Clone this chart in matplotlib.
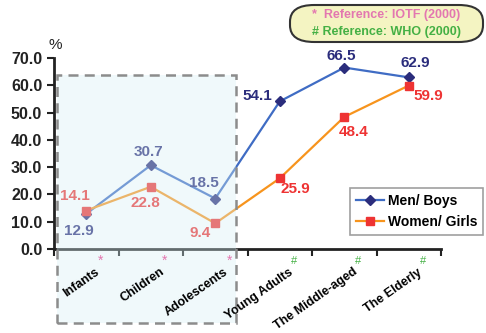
"""Overweight/obesity prevalence by age group, men vs women."""

import matplotlib.pyplot as plt
from matplotlib.patches import Rectangle, FancyBboxPatch

plt.rcParams["font.family"] = ["Liberation Sans", "DejaVu Sans"]

categories = ["Infants", "Children", "Adolescents", "Young Adults", "The Middle-aged", "The Elderly"]
ref_marks = ["*", "*", "*", "#", "#", "#"]
men = [12.9, 30.7, 18.5, 54.1, 66.5, 62.9]
women = [14.1, 22.8, 9.4, 25.9, 48.4, 59.9]

# label offsets in pixels (dx, dy), y up
men_off = [(-7, -17), (-2, 13), (-11, 16), (-22, 5), (-3, 12), (7, 14)]
women_off = [(-11, 15), (-5, -16), (-15, -10), (16, -11), (9, -15), (20, -10)]

NAVY = "#2b2d7c"
BLUE = "#3f6cc4"
RED = "#ee3333"
ORANGE = "#f7941d"

fig = plt.figure(figsize=(4.86, 3.33), dpi=100)
ax = fig.add_axes([54 / 486, 1 - 249 / 333, (441 - 54) / 486, (249 - 58) / 333])

x = [i + 0.5 for i in range(len(categories))]
ax.plot(x, men, color=BLUE, lw=1.6, marker="D", ms=5.5, mfc=NAVY, mec=NAVY, zorder=3, label="Men/ Boys")
ax.plot(x, women, color=ORANGE, lw=1.6, marker="s", ms=6, mfc=RED, mec=RED, zorder=3, label="Women/ Girls")

for xi, v, off in zip(x, men, men_off):
    ax.annotate(f"{v:.1f}", (xi, v), xytext=off, textcoords="offset pixels",
                ha="center", va="center", fontsize=11, fontweight="bold", color=NAVY, zorder=4)
for xi, v, off in zip(x, women, women_off):
    ax.annotate(f"{v:.1f}", (xi, v), xytext=off, textcoords="offset pixels",
                ha="center", va="center", fontsize=11, fontweight="bold", color=RED, zorder=4)

ax.set_xlim(0, len(categories))
ax.set_ylim(0, 70)
ax.set_yticks(range(0, 71, 10))
ax.set_yticklabels([f"{t:.1f}" for t in range(0, 71, 10)], fontsize=11.5, fontweight="bold", color="#222222")
ax.set_xticks(range(len(categories) + 1))
ax.set_xticklabels([])
ax.tick_params(axis="both", direction="out", length=5, width=1.5, color="#222222")
for s in ["top", "right"]:
    ax.spines[s].set_visible(False)
for s in ["left", "bottom"]:
    ax.spines[s].set_linewidth(2)
    ax.spines[s].set_color("#222222")

fig.text(55 / 486, 1 - 45 / 333, "%", fontsize=11, color="#222222", ha="center", va="center")

# category labels and reference marks
for xi, name, mark in zip(x, categories, ref_marks):
    ax.annotate(name, (xi, 0), xycoords=("data", "axes fraction"), xytext=(12, -22),
                textcoords="offset pixels", rotation=35, rotation_mode="anchor",
                ha="right", va="center", fontsize=9, fontweight="bold", color="black",
                zorder=10, annotation_clip=False)
    ax.annotate(mark, (xi, 0), xycoords=("data", "axes fraction"), xytext=(14, -12),
                textcoords="offset pixels", ha="center", va="center",
                fontsize=10 if mark == "*" else 8,
                color="#e377b0" if mark == "*" else "#44b044", zorder=10, annotation_clip=False)

# shaded dashed box over the young groups
box_fill = Rectangle((57 / 486, 1 - 323 / 333), 179 / 486, 248 / 333, transform=fig.transFigure,
                     facecolor=(0.84, 0.94, 0.96), alpha=0.36, edgecolor="none", zorder=6, clip_on=False)
box_edge = Rectangle((57 / 486, 1 - 323 / 333), 179 / 486, 248 / 333, transform=fig.transFigure,
                     facecolor="none", edgecolor="#8c8c8c", lw=1.8, linestyle=(0, (4, 2.5)),
                     zorder=7, clip_on=False)
ax.add_artist(box_fill)
ax.add_artist(box_edge)

leg = ax.legend(loc="upper left", bbox_to_anchor=(350 / 486, 1 - 188 / 333), bbox_transform=fig.transFigure,
                prop={"size": 10, "weight": "bold"}, frameon=True, fancybox=False, handlelength=2.0,
                handletextpad=0.25, borderpad=0.45, labelspacing=0.5, borderaxespad=0)
leg.get_frame().set_edgecolor("#888888")
leg.get_frame().set_linewidth(1.2)
leg.set_zorder(12)

# reference note box
note = FancyBboxPatch((290 / 486, 1 - 42 / 333), 193 / 486, 37 / 333, transform=fig.transFigure,
                      boxstyle="round,pad=0,rounding_size=0.05", facecolor="#f4f4c2",
                      edgecolor="#333333", lw=1.5, clip_on=False, zorder=12)
ax.add_artist(note)
fig.text(386 / 486, 1 - 15 / 333, "*  Reference: IOTF (2000)", ha="center", va="center",
         fontsize=9, fontweight="bold", color="#e377b0", zorder=13)
fig.text(386 / 486, 1 - 32 / 333, "# Reference: WHO (2000)", ha="center", va="center",
         fontsize=9, fontweight="bold", color="#44b044", zorder=13)

fig.savefig("out.png", dpi=100)
